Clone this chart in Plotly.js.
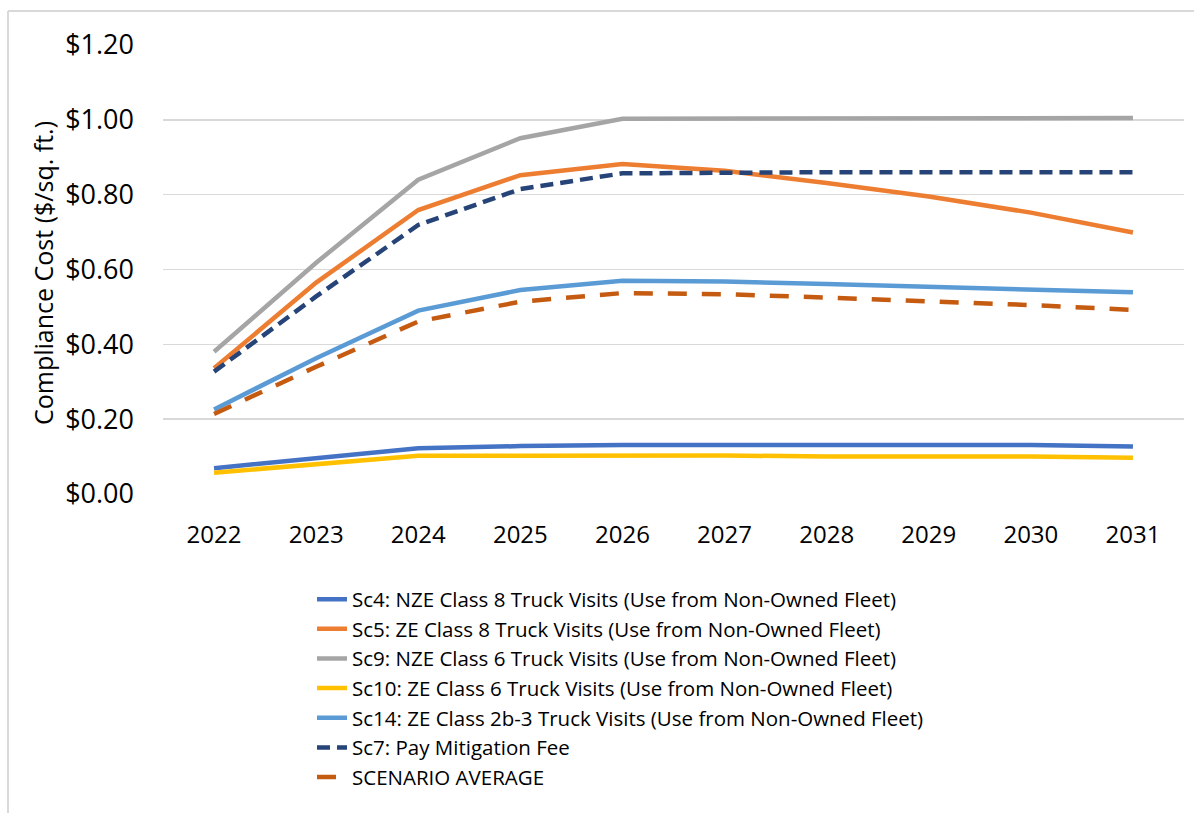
<!DOCTYPE html>
<html>
<head>
<meta charset="utf-8">
<script src="https://cdn.plot.ly/plotly-3.0.1.min.js"></script>
<style>
html,body{margin:0;padding:0;background:#fff;}
#chart{width:1194px;height:813px;}
</style>
</head>
<body>
<div id="chart"></div>
<script>
const years = ['2022','2023','2024','2025','2026','2027','2028','2029','2030','2031'];
const sc4  = [0.069, 0.095, 0.122, 0.128, 0.131, 0.131, 0.131, 0.131, 0.131, 0.127];
const sc5  = [0.336, 0.565, 0.759, 0.852, 0.882, 0.864, 0.831, 0.795, 0.752, 0.699];
const sc9  = [0.380, 0.618, 0.840, 0.951, 1.003, 1.003, 1.003, 1.003, 1.005, 1.005];
const sc10 = [0.057, 0.079, 0.102, 0.102, 0.103, 0.103, 0.100, 0.100, 0.100, 0.097];
const sc14 = [0.226, 0.363, 0.490, 0.545, 0.570, 0.568, 0.561, 0.554, 0.547, 0.539];
const sc7  = [0.327, 0.528, 0.719, 0.815, 0.857, 0.860, 0.860, 0.860, 0.860, 0.860];
const avg  = [0.214, 0.340, 0.461, 0.514, 0.537, 0.534, 0.525, 0.516, 0.505, 0.492];

const names = [
  'Sc4: NZE Class 8 Truck Visits (Use from Non-Owned Fleet)',
  'Sc5: ZE Class 8 Truck Visits (Use from Non-Owned Fleet)',
  'Sc9: NZE Class 6 Truck Visits (Use from Non-Owned Fleet)',
  'Sc10: ZE Class 6 Truck Visits (Use from Non-Owned Fleet)',
  'Sc14: ZE Class 2b-3 Truck Visits (Use from Non-Owned Fleet)',
  'Sc7: Pay Mitigation Fee',
  'SCENARIO AVERAGE'
];
const series = [sc4, sc5, sc9, sc10, sc14, sc7, avg];
const colors = ['#4472C4','#ED7D31','#A5A5A5','#FFC000','#5B9BD5','#264478','#C55A11'];
const dashes = ['solid','solid','solid','solid','solid','13px,7px','19px,15px'];

const traces = series.map((s,i)=>({
  x: years, y: s, name: names[i], type:'scatter', mode:'lines',
  legendgroup: 'g'+i,
  line:{color:colors[i], width:4.5, dash:dashes[i]},
  hoverinfo:'skip'
}));

const FONT = 'Open Sans, Noto Sans, sans-serif';
const layout = {
  width:1194, height:813,
  margin:{l:163, r:10, t:45, b:319},
  paper_bgcolor:'#fff', plot_bgcolor:'#fff',
  font:{family:FONT, color:'#000'},
  showlegend:true,
  legend:{
    x:(312-163)/1021, xanchor:'left', y:-0.19, yanchor:'top',
    font:{family:FONT, size:20.5, color:'#000'},
    traceorder:'grouped', tracegroupgap:0,
    bgcolor:'rgba(0,0,0,0)', itemwidth:30
  },
  xaxis:{
    type:'category', range:[-0.5, 9.5], showgrid:false, zeroline:false, showline:false,
    ticks:'', tickfont:{family:FONT, size:24, color:'#000'},
    ticklabelstandoff:24, fixedrange:true
  },
  yaxis:{
    range:[0,1.2], dtick:0.2, tick0:0, tickformat:'$.2f',
    showgrid:true, gridcolor:'#d9d9d9', gridwidth:1.5,
    zeroline:false, showline:false, ticks:'',
    tickfont:{family:FONT, size:27, color:'#000'},
    ticklabelstandoff:28, fixedrange:true
  },
  annotations:[{
    text:'Compliance Cost ($/sq. ft.)', textangle:-90,
    xref:'paper', yref:'paper',
    x:(43-163)/1021, y:(494-273)/449,
    xanchor:'center', yanchor:'middle', showarrow:false,
    font:{family:FONT, size:25, color:'#000'}
  }],
  shapes:[
    {type:'line', xref:'paper', yref:'paper', x0:(8-163)/1021, x1:(1194-163)/1021, y0:(494-11)/449, y1:(494-11)/449, line:{color:'#d9d9d9', width:2}},
    {type:'line', xref:'paper', yref:'paper', x0:(8-163)/1021, x1:(8-163)/1021, y0:(494-11)/449, y1:(494-813)/449, line:{color:'#d9d9d9', width:2}}
  ]
};

Plotly.newPlot('chart', traces, layout, {displayModeBar:false, staticPlot:true});
</script>
</body>
</html>
